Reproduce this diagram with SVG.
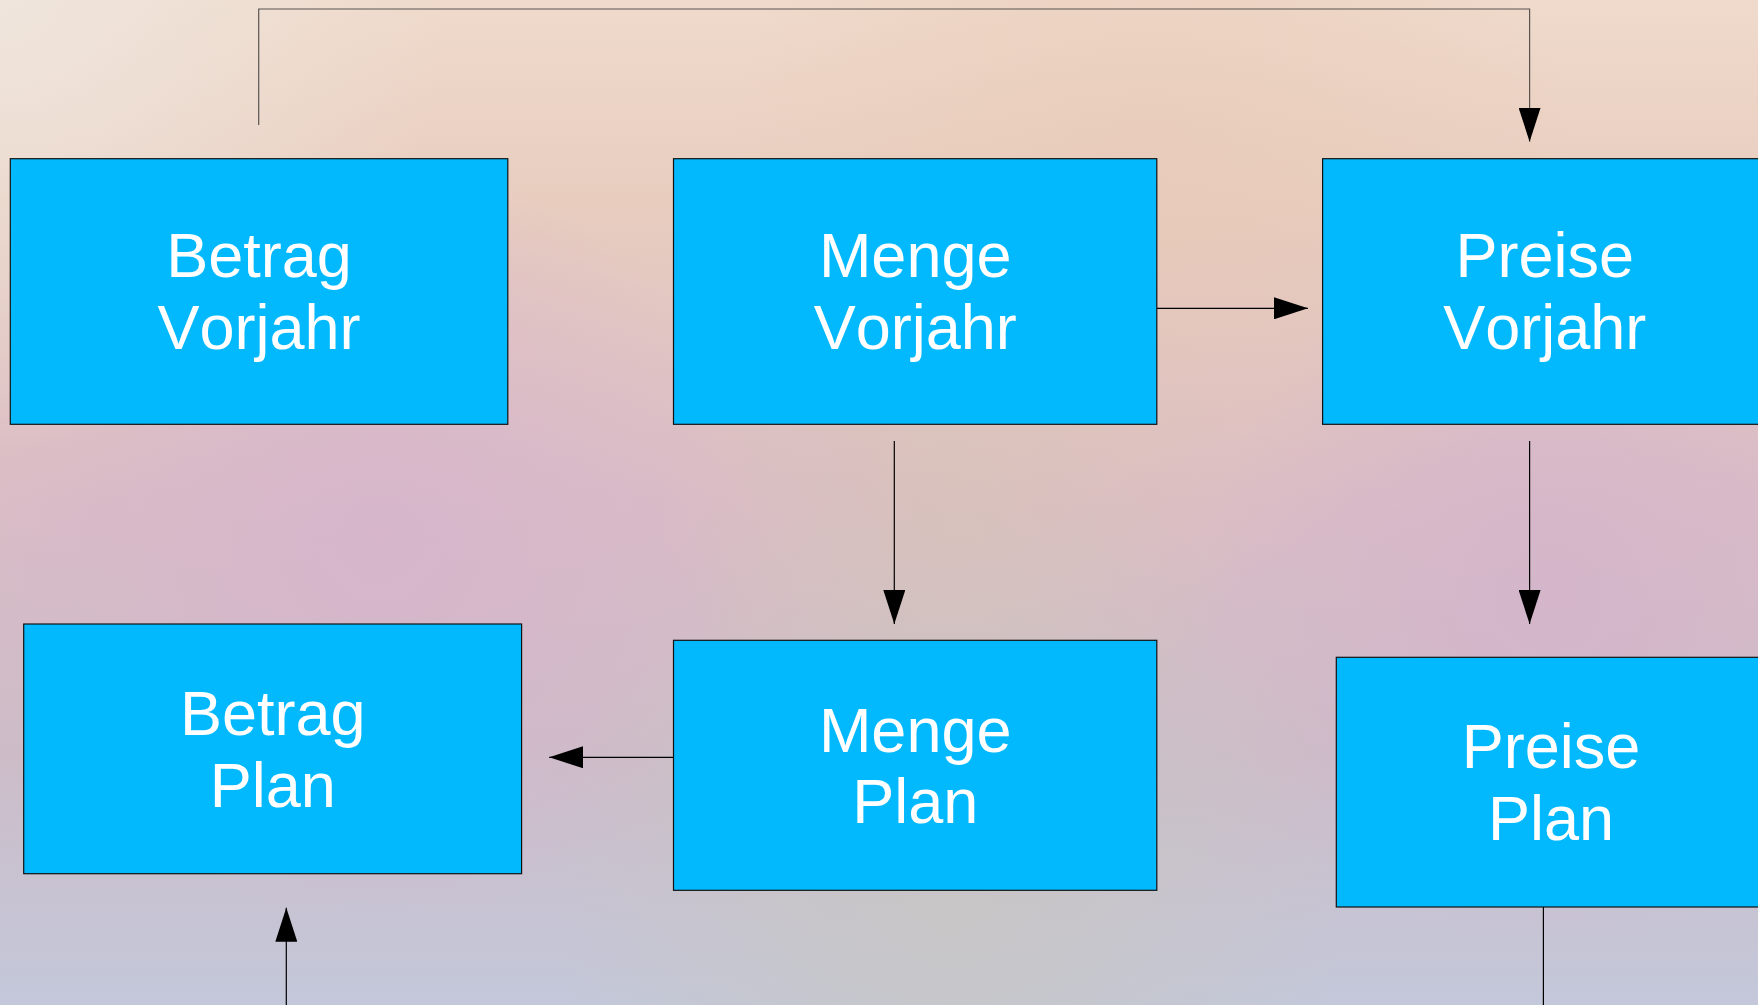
<svg xmlns="http://www.w3.org/2000/svg" width="1758" height="1005" viewBox="0 0 1758 1005">
<style>
.box{fill:#02b9fe;stroke:#111;stroke-width:1.2}
.lbl{fill:#fff;font-family:"Liberation Sans",Arial,sans-serif;font-size:63px;text-anchor:middle;font-kerning:none}
.con{fill:none;stroke:#000;stroke-width:1.2}
</style>
<defs>
<linearGradient id="bg" x1="0" y1="0" x2="0" y2="1">
<stop offset="0" stop-color="#efdacb"/>
<stop offset="0.2" stop-color="#e8cdbf"/>
<stop offset="0.5" stop-color="#d9bcc6"/>
<stop offset="0.75" stop-color="#cdbcc8"/>
<stop offset="1" stop-color="#c3c8da"/>
</linearGradient>
<radialGradient id="lav1" cx="380" cy="540" r="380" gradientUnits="userSpaceOnUse">
<stop offset="0" stop-color="#d6b4cc" stop-opacity="0.8"/>
<stop offset="1" stop-color="#d6b4cc" stop-opacity="0"/>
</radialGradient>
<radialGradient id="lav2" cx="1550" cy="600" r="350" gradientUnits="userSpaceOnUse">
<stop offset="0" stop-color="#d4b4cb" stop-opacity="0.8"/>
<stop offset="1" stop-color="#d4b4cb" stop-opacity="0"/>
</radialGradient>
<radialGradient id="peach" cx="1150" cy="180" r="420" gradientUnits="userSpaceOnUse">
<stop offset="0" stop-color="#e8c8b4" stop-opacity="0.55"/>
<stop offset="1" stop-color="#e8c8b4" stop-opacity="0"/>
</radialGradient>
<radialGradient id="light" cx="0" cy="0" r="450" gradientUnits="userSpaceOnUse">
<stop offset="0" stop-color="#efe6de" stop-opacity="0.9"/>
<stop offset="1" stop-color="#efe6de" stop-opacity="0"/>
</radialGradient>
<radialGradient id="grey" cx="950" cy="900" r="400" gradientUnits="userSpaceOnUse">
<stop offset="0" stop-color="#c8c6c2" stop-opacity="0.8"/>
<stop offset="1" stop-color="#c8c6c2" stop-opacity="0"/>
</radialGradient>
<radialGradient id="tan" cx="950" cy="520" r="300" gradientUnits="userSpaceOnUse">
<stop offset="0" stop-color="#d8c4b8" stop-opacity="0.7"/>
<stop offset="1" stop-color="#d8c4b8" stop-opacity="0"/>
</radialGradient>
<marker id="arr" markerWidth="34" markerHeight="22" refX="34" refY="11" orient="auto" markerUnits="userSpaceOnUse">
<path d="M0,0 L34,11 L0,22 z" fill="#000"/>
</marker>
</defs>
<g id="background">
<rect x="0" y="0" width="1758" height="1005" fill="url(#bg)"/>
<rect x="0" y="0" width="1758" height="1005" fill="url(#peach)"/>
<rect x="0" y="0" width="1758" height="1005" fill="url(#tan)"/>
<rect x="0" y="0" width="1758" height="1005" fill="url(#lav1)"/>
<rect x="0" y="0" width="1758" height="1005" fill="url(#lav2)"/>
<rect x="0" y="0" width="1758" height="1005" fill="url(#grey)"/>
<rect x="0" y="0" width="1758" height="1005" fill="url(#light)"/>
</g>
<g id="connectors">
<path class="con" style="stroke:#5a5450" d="M258.7,125 V9 H1529.6 V141.7" marker-end="url(#arr)"/>
<path class="con" d="M1156.8,308.3 H1308" marker-end="url(#arr)"/>
<path class="con" d="M894.3,441 V624" marker-end="url(#arr)"/>
<path class="con" d="M1529.6,441 V624" marker-end="url(#arr)"/>
<path class="con" d="M673.5,757.3 H549.2" marker-end="url(#arr)"/>
<path class="con" d="M1543.4,907 V1005"/>
<path class="con" d="M286.3,1005 V907.7" marker-end="url(#arr)"/>
</g>
<g id="betrag-vorjahr">
<rect class="box" x="10.3" y="158.7" width="497.5" height="265.6"/>
<text class="lbl" x="259" y="277.3">Betrag</text>
<text class="lbl" x="259" y="349">Vorjahr</text>
</g>
<g id="menge-vorjahr">
<rect class="box" x="673.5" y="158.7" width="483.3" height="265.6"/>
<text class="lbl" x="915.2" y="277.3">Menge</text>
<text class="lbl" x="915.2" y="349">Vorjahr</text>
</g>
<g id="preise-vorjahr">
<rect class="box" x="1322.6" y="158.7" width="444" height="265.6"/>
<text class="lbl" x="1544.7" y="277.3">Preise</text>
<text class="lbl" x="1544.7" y="349">Vorjahr</text>
</g>
<g id="betrag-plan">
<rect class="box" x="23.7" y="624" width="497.9" height="249.7"/>
<text class="lbl" x="272.7" y="735.3">Betrag</text>
<text class="lbl" x="272.7" y="806.7">Plan</text>
</g>
<g id="menge-plan">
<rect class="box" x="673.5" y="640.3" width="483.3" height="250"/>
<text class="lbl" x="915.2" y="751.7">Menge</text>
<text class="lbl" x="915.2" y="822.7">Plan</text>
</g>
<g id="preise-plan">
<rect class="box" x="1336.3" y="657.3" width="430" height="249.7"/>
<text class="lbl" x="1551" y="768.3">Preise</text>
<text class="lbl" x="1551" y="840">Plan</text>
</g>
</svg>
